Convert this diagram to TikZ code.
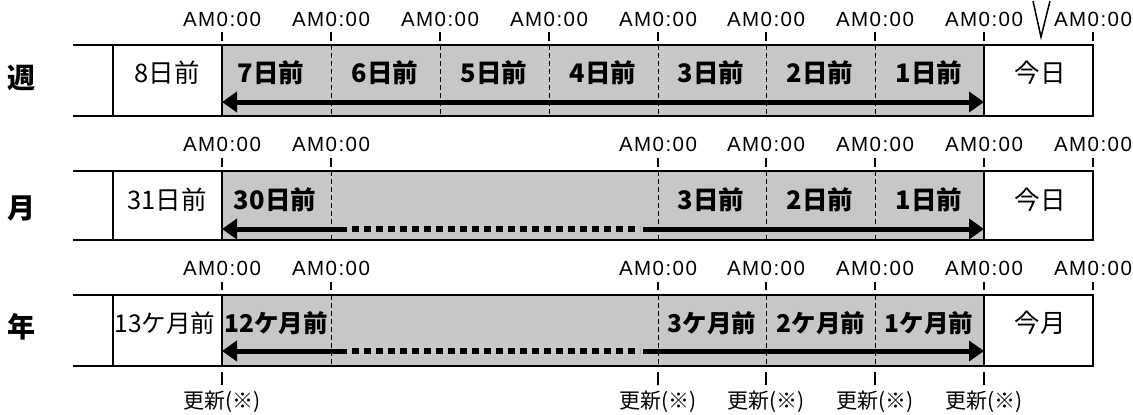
\documentclass[tikz,border=0pt]{standalone}
\usepackage{fontspec}
\setmainfont{Noto Sans CJK JP}
\newfontfamily\latinfont{Liberation Sans}[LetterSpace=7]
\usetikzlibrary{arrows.meta}
\tikzset{
  boxline/.style={line width=2pt},
  sepline/.style={line width=1.3pt},
  dashsep/.style={line width=1pt, dash pattern=on 5pt off 3pt},
  tickline/.style={line width=1.2pt},
  shadefill/.style={fill=black!22},
  amlabel/.style={font=\latinfont\fontsize{20.5}{20.5}\selectfont, inner sep=0pt},
  cell/.style={font=\fontsize{25.5}{25.5}\selectfont, inner sep=0pt},
  cellb/.style={font=\bfseries\fontsize{25.5}{25.5}\selectfont, inner sep=0pt},
  ycell/.style={font=\fontsize{24.5}{24.5}\selectfont, inner sep=0pt},
  ycellb/.style={font=\bfseries\fontsize{24.5}{24.5}\selectfont, inner sep=0pt},
  rowlab/.style={font=\bfseries\fontsize{28}{28}\selectfont, inner sep=0pt},
  updlabel/.style={font=\fontsize{21}{21}\selectfont, inner sep=0pt},
  headL/.style={line width=5pt, {Triangle[length=15pt,width=20pt]}-},
  headR/.style={line width=5pt, -{Triangle[length=15pt,width=20pt]}},
  headLR/.style={line width=5pt, {Triangle[length=15pt,width=20pt]}-{Triangle[length=15pt,width=20pt]}},
  squares/.style={line width=6pt, dash pattern=on 7pt off 5pt}
}
\begin{document}
\begin{tikzpicture}[x=1pt,y=-1pt]
\useasboundingbox (0,0) rectangle (1133,415);
% ---------------- Row 1 (week) ----------------
\fill[shadefill] (222,45) rectangle (984,116);
\foreach \x in {331,440,549,658,766,875} \draw[dashsep] (\x,45) -- (\x,116);
\draw[boxline] (73,45) -- (1093,45) -- (1093,116) -- (73,116);
\draw[sepline] (113,45) -- (113,116);
\draw[sepline] (222,45) -- (222,116);
\draw[sepline] (984,45) -- (984,116);
\foreach \x [count=\i] in {222,331,440,549,658,766,875,984,1093} {
  \draw[tickline] (\x,32) -- (\x,41);
  \node[amlabel] (w\i) at (\x,19) {AM0:00};
}
\node[rowlab] (rw) at (21,78) {週};
\node[cell] (w8) at (167,73) {8日前};
\node[cellb] (w7) at (271,73) {7日前};
\node[cellb] (w6) at (385,73) {6日前};
\node[cellb] (w5) at (494,73) {5日前};
\node[cellb] (w4) at (603,73) {4日前};
\node[cellb] (w3) at (711,73) {3日前};
\node[cellb] (w2) at (820,73) {2日前};
\node[cellb] (w1) at (929,73) {1日前};
\node[cell] (w0) at (1040,73) {今日};
\coordinate (wl) at (222,102);
\coordinate (wr) at (984,102);
\draw[headLR] (wl) -- (wr);
\draw[line width=1.5pt] (1033,1) -- (1041,37) -- (1050,1);
% ---------------- Row 2 (month) ----------------
\fill[shadefill] (222,171) rectangle (984,240);
\foreach \x in {331,658,766,875} \draw[dashsep] (\x,171) -- (\x,240);
\draw[boxline] (73,171) -- (1093,171) -- (1093,240) -- (73,240);
\draw[sepline] (113,171) -- (113,240);
\draw[sepline] (222,171) -- (222,240);
\draw[sepline] (984,171) -- (984,240);
\foreach \x [count=\i] in {222,331,658,766,875,984,1093} {
  \draw[tickline] (\x,158) -- (\x,167);
  \node[amlabel] (m\i) at (\x,144) {AM0:00};
}
\node[rowlab] (rm) at (21,208) {月};
\node[cell] (m31) at (167,200) {31日前};
\node[cellb] (m30) at (275,200) {30日前};
\node[cellb] (m3) at (711,200) {3日前};
\node[cellb] (m2) at (820,200) {2日前};
\node[cellb] (m1) at (929,200) {1日前};
\node[cell] (m0) at (1040,200) {今日};
\coordinate (ml) at (222,229);
\coordinate (ma) at (347,229);
\coordinate (mb) at (352,229);
\coordinate (mc) at (640,229);
\coordinate (md) at (643,229);
\coordinate (mr) at (984,229);
\draw[headL] (ml) -- (ma);
\draw[squares] (mb) -- (mc);
\draw[headR] (md) -- (mr);
% ---------------- Row 3 (year) ----------------
\fill[shadefill] (222,295) rectangle (984,366);
\foreach \x in {331,658,766,875} \draw[dashsep] (\x,295) -- (\x,366);
\draw[boxline] (73,295) -- (1093,295) -- (1093,366) -- (73,366);
\draw[sepline] (113,295) -- (113,366);
\draw[sepline] (222,295) -- (222,366);
\draw[sepline] (984,295) -- (984,366);
\foreach \x [count=\i] in {222,331,658,766,875,984,1093} {
  \draw[tickline] (\x,282) -- (\x,290);
  \node[amlabel] (y\i) at (\x,268) {AM0:00};
}
\node[rowlab] (ry) at (21,327) {年};
\node[ycell] (y13) at (165,323) {13ケ月前};
\node[ycellb] (y12) at (276,323) {12ケ月前};
\node[ycellb] (y3) at (712,323) {3ケ月前};
\node[ycellb] (y2) at (821,323) {2ケ月前};
\node[ycellb] (y1) at (929,323) {1ケ月前};
\node[cell] (y0) at (1040,323) {今月};
\coordinate (yl) at (222,351);
\coordinate (ya) at (347,351);
\coordinate (yb) at (352,351);
\coordinate (yc) at (640,351);
\coordinate (yd) at (643,351);
\coordinate (yr) at (984,351);
\draw[headL] (yl) -- (ya);
\draw[squares] (yb) -- (yc);
\draw[headR] (yd) -- (yr);
% ---------------- update marks ----------------
\foreach \x [count=\i] in {222,658,766,875,984} {
  \draw[tickline] (\x,372) -- (\x,385);
  \node[updlabel] (u\i) at (\x,402) {更新(※)};
}
\end{tikzpicture}
\end{document}
